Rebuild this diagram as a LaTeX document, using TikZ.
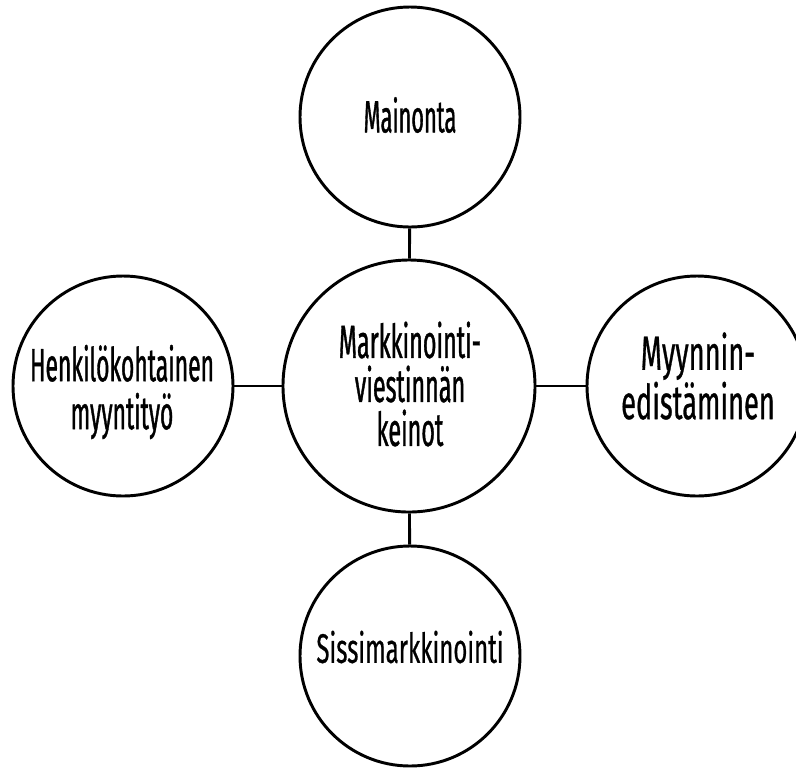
\documentclass[tikz,border=0pt]{standalone}
\usepackage{fontspec}
\newfontfamily\fonttop[FakeStretch=0.48,FakeBold=0.8]{Fira Sans}
\newfontfamily\fontleft[FakeStretch=0.49,FakeBold=0.8]{Fira Sans}
\newfontfamily\fonthub[FakeStretch=0.50,FakeBold=0.8]{Fira Sans}
\newfontfamily\fontright[FakeStretch=0.567,FakeBold=0.6]{Fira Sans}
\newfontfamily\fontbottom[FakeStretch=0.58,FakeBold=0.5]{Fira Sans}
\begin{document}
\begin{tikzpicture}[x=0.75pt,y=-0.75pt,
  bubble/.style={circle,draw,line width=2.2pt,inner sep=0pt,minimum size=165pt},
  hub/.style={bubble,minimum size=189pt},
  label/.style={inner sep=0pt,align=center},
  link/.style={line width=2.2pt}]
\useasboundingbox (0,0) rectangle (796,769);
\node[hub] (c) at (409,386) {};
\node[bubble] (t) at (410,117) {};
\node[bubble] (l) at (123,386) {};
\node[bubble] (r) at (697,386) {};
\node[bubble] (b) at (410,656) {};
\node[label,font=\fonthub\fontsize{35}{33}\selectfont] (ct) at (410,384) {Markkinointi-\\viestinnän\\keinot};
\node[label,font=\fonttop\fontsize{34}{34}\selectfont] (tt) at (410,115) {Mainonta};
\node[label,font=\fontleft\fontsize{35}{36}\selectfont] (lt) at (122,392) {Henkilökohtainen\\myyntityö};
\node[label,font=\fontright\fontsize{36}{37}\selectfont] (rt) at (698,376) {Myynnin-\\edistäminen};
\node[label,font=\fontbottom\fontsize{31}{30}\selectfont] (bt) at (410,647) {Sissimarkkinointi};
\draw[link] (t) -- (c);
\draw[link] (l) -- (c);
\draw[link] (r) -- (c);
\draw[link] (b) -- (c);
\end{tikzpicture}
\end{document}
